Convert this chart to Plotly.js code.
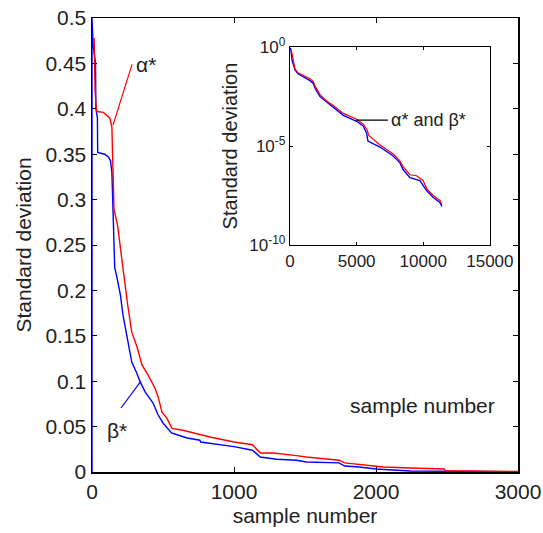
<!DOCTYPE html>
<html>
<head>
<meta charset="utf-8">
<script src="https://cdn.plot.ly/plotly-3.0.1.min.js"></script>
<style>html,body{margin:0;padding:0;background:#fff;}#chart{width:543px;height:533px;}</style>
</head>
<body>
<div id="chart"></div>
<script>
// Main plot: standard deviation vs sample number (0-3000)
var alphaX = [15, 18, 22, 30, 35, 80, 106, 125, 140, 144, 150, 155, 180, 200, 220, 253, 280, 317, 352, 394, 443, 465, 493, 528, 563, 640, 760, 830, 1000, 1130, 1185, 1275, 1440, 1510, 1740, 1780, 1985, 2050, 2240, 2480, 2490, 2850, 2860, 3000];
var alphaY = [0.478, 0.44, 0.42, 0.40, 0.397, 0.396, 0.393, 0.39, 0.38, 0.35, 0.327, 0.289, 0.272, 0.245, 0.222, 0.182, 0.154, 0.138, 0.118, 0.107, 0.0925, 0.083, 0.066, 0.059, 0.048, 0.046, 0.041, 0.0385, 0.033, 0.030, 0.021, 0.021, 0.018, 0.0165, 0.013, 0.010, 0.0066, 0.0055, 0.0044, 0.0033, 0.0013, 0.0013, 0.0006, 0.0006];
var betaX = [0, 0, 8, 25, 27, 38, 40, 90, 115, 130, 140, 145, 150, 155, 160, 175, 200, 218, 245, 280, 315, 340, 375, 430, 465, 500, 560, 670, 760, 765, 1000, 1130, 1185, 1300, 1440, 1510, 1740, 1780, 1880, 2000, 2240, 2850, 2860, 3000];
var betaY = [0, 0.5, 0.47, 0.45, 0.40, 0.39, 0.352, 0.350, 0.347, 0.343, 0.33, 0.30, 0.27, 0.245, 0.225, 0.215, 0.195, 0.173, 0.149, 0.121, 0.109, 0.099, 0.088, 0.076, 0.063, 0.054, 0.043, 0.0375, 0.035, 0.033, 0.028, 0.024, 0.0165, 0.014, 0.013, 0.011, 0.010, 0.0066, 0.0055, 0.0033, 0.0011, 0.0011, 0.0004, 0.0004];

// Inset: log scale, sample number 0-15000
var insetAlphaX = [100, 200, 375, 600, 1000, 1500, 1750, 1900, 2250, 2700, 3250, 4000, 5000, 5500, 5800, 5900, 6750, 7750, 8250, 8500, 9000, 9500, 10000, 10250, 10750, 11250, 11400];
var insetAlphaY = [0.708, 0.316, 0.0794, 0.0501, 0.0355, 0.0251, 0.0178, 0.01, 0.00398, 0.002, 0.00112, 4.47e-4, 2.24e-4, 1.26e-4, 6.31e-5, 3.55e-5, 1.12e-5, 3.98e-6, 1.78e-6, 8.91e-7, 3.55e-7, 3.16e-7, 1.78e-7, 7.08e-8, 3.16e-8, 1.78e-8, 1.12e-8];
var insetBetaX = [0, 60, 150, 375, 600, 1000, 1500, 1750, 1900, 2250, 2700, 3250, 4000, 5000, 5500, 5750, 5850, 6750, 7750, 8250, 8500, 9000, 9750, 10250, 10750, 11250, 11400];
var insetBetaY = [0.891, 0.794, 0.219, 0.0692, 0.0447, 0.0316, 0.02, 0.0141, 0.00794, 0.00316, 0.00178, 8.91e-4, 3.55e-4, 1.78e-4, 1.0e-4, 4.47e-5, 1.78e-5, 8.91e-6, 3.16e-6, 1.41e-6, 6.31e-7, 2.51e-7, 1.78e-7, 5.62e-8, 2.51e-8, 1.41e-8, 8.91e-9];

var mainXTicks = [0, 1000, 2000, 3000];
var insetXTicks = [0, 5000, 10000, 15000];
var insetXTickText = ['0', '5000', '10000', '15000'];
var insetYTickVals = [1, 1e-5, 1e-10];
var insetYTickText = ['10<sup>0</sup>', '10<sup>-5</sup>', '10<sup>-10</sup>'];

var FONT = 'Liberation Sans, Arial, sans-serif';
var TXT = '#222';

var traces = [
  {x: betaX, y: betaY, type: 'scatter', mode: 'lines', line: {color: '#0000ff', width: 1.4}, xaxis: 'x', yaxis: 'y', hoverinfo: 'skip'},
  {x: alphaX, y: alphaY, type: 'scatter', mode: 'lines', line: {color: '#ff0000', width: 1.4}, xaxis: 'x', yaxis: 'y', hoverinfo: 'skip'},
  {x: insetBetaX, y: insetBetaY, type: 'scatter', mode: 'lines', line: {color: '#0000ff', width: 1.4}, xaxis: 'x2', yaxis: 'y2', hoverinfo: 'skip'},
  {x: insetAlphaX, y: insetAlphaY, type: 'scatter', mode: 'lines', line: {color: '#ff0000', width: 1.2}, xaxis: 'x2', yaxis: 'y2', hoverinfo: 'skip'}
];

var layout = {
  width: 543, height: 533,
  margin: {l: 92, r: 25, t: 18, b: 61},
  paper_bgcolor: '#ffffff', plot_bgcolor: '#ffffff',
  showlegend: false,
  font: {family: FONT, color: TXT, size: 21},
  xaxis: {
    domain: [0, 1], anchor: 'y', range: [0, 3000],
    tickvals: mainXTicks, ticks: 'inside', ticklen: 5, tickcolor: '#000',
    showline: true, linecolor: '#000', linewidth: 1.5, mirror: 'ticks',
    showgrid: false, zeroline: false, layer: 'below traces',
    tickfont: {size: 21, color: TXT},
    title: {text: 'sample number', font: {size: 21, color: TXT}, standoff: 6}
  },
  yaxis: {
    domain: [0, 1], anchor: 'x', range: [0, 0.5],
    dtick: 0.05, tick0: 0, ticks: 'inside', ticklen: 5, tickcolor: '#000',
    showline: true, linecolor: '#000', linewidth: 1.5, mirror: 'ticks',
    showgrid: false, zeroline: false, layer: 'below traces',
    tickfont: {size: 21, color: TXT},
    title: {text: 'Standard deviation', font: {size: 21, color: TXT}, standoff: 8}
  },
  xaxis2: {
    domain: [0.4648, 0.934], anchor: 'y2', range: [0, 15000],
    tickvals: insetXTicks, ticktext: insetXTickText, ticks: 'inside', ticklen: 3, tickcolor: '#000',
    showline: true, linecolor: '#000', linewidth: 1.2, mirror: 'ticks',
    showgrid: false, zeroline: false,
    tickfont: {size: 17, color: TXT}
  },
  yaxis2: {
    domain: [0.5, 0.936], anchor: 'x2', type: 'log', range: [-10, 0],
    tickvals: insetYTickVals, ticktext: insetYTickText,
    ticks: 'inside', ticklen: 3, tickcolor: '#000',
    showline: true, linecolor: '#000', linewidth: 1.2, mirror: 'ticks',
    showgrid: false, zeroline: false,
    tickfont: {size: 17, color: TXT},
    title: {text: 'Standard deviation', font: {size: 20, color: TXT}, standoff: 6}
  },
  shapes: [
    {type: 'line', xref: 'x', yref: 'y', x0: 148, y0: 0.382, x1: 282, y1: 0.449, line: {color: '#ff0000', width: 1.2}},
    {type: 'line', xref: 'x', yref: 'y', x0: 345, y0: 0.100, x1: 204, y1: 0.0705, line: {color: '#0000ff', width: 1.2}},
    {type: 'line', xref: 'x2', yref: 'y2 domain', x0: 4950, y0: 0.631, x1: 7350, y1: 0.631, line: {color: '#000000', width: 1.2}}
  ],
  annotations: [
    {xref: 'x', yref: 'y', x: 296, y: 0.449, text: 'α*', showarrow: false, xanchor: 'left', yanchor: 'middle', font: {size: 21, color: TXT}},
    {xref: 'x', yref: 'y', x: 176, y: 0.046, text: 'β*', showarrow: false, xanchor: 'center', yanchor: 'middle', font: {size: 21, color: TXT}},
    {xref: 'x', yref: 'y', x: 2324, y: 0.0727, text: 'sample number', showarrow: false, xanchor: 'center', yanchor: 'middle', font: {size: 21, color: TXT}},
    {xref: 'x2', yref: 'y2 domain', x: 7450, y: 0.631, text: 'α* and β*', showarrow: false, xanchor: 'left', yanchor: 'middle', font: {size: 18, color: TXT}}
  ]
};

Plotly.newPlot('chart', traces, layout, {displayModeBar: false, staticPlot: true});
</script>
</body>
</html>
